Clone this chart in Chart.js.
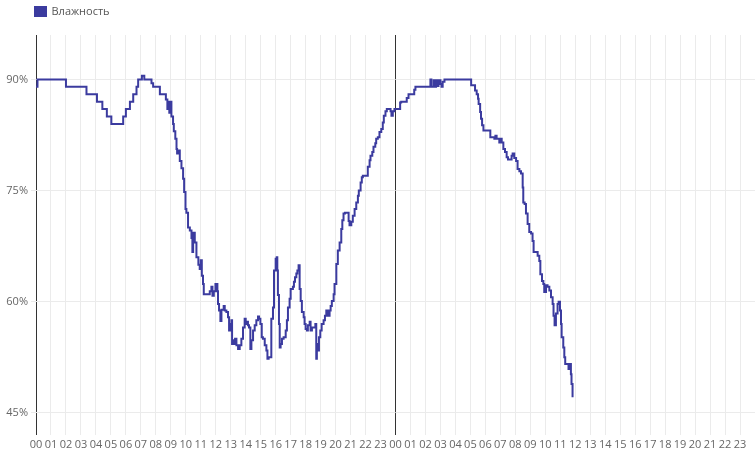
<!DOCTYPE html>
<html>
<head>
<meta charset="utf-8">
<script src="https://cdn.jsdelivr.net/npm/chart.js@4.4.1/dist/chart.umd.min.js"></script>
<style>
  html, body { margin: 0; padding: 0; background: #fff; }
  #wrap { width: 755px; height: 451px; }
</style>
</head>
<body>
<div id="wrap"><canvas id="myChart"></canvas></div>
<script>
// hours since 00:00 of the first day, each one is a point where the reading changes
var times = [
  0, 0.1, 2.0, 3.37, 4.07, 4.43, 4.73, 5.03, 5.82, 6.0, 6.27, 6.49, 6.71, 6.82, 7.07, 7.23, 7.71, 7.82,
  8.27, 8.67, 8.77, 8.83, 8.9, 8.95, 9.04, 9.15, 9.2, 9.3, 9.38, 9.42, 9.53, 9.6, 9.71, 9.82, 9.89, 9.98,
  10.04, 10.15, 10.27, 10.38, 10.44, 10.49, 10.6, 10.71, 10.84, 10.93, 11.0, 11.07, 11.15, 11.2, 11.6,
  11.71, 11.78, 11.87, 11.98, 12.11, 12.15, 12.22, 12.31, 12.38, 12.53, 12.6, 12.71, 12.82, 12.89, 12.98,
  13.05, 13.09, 13.15, 13.22, 13.29, 13.38, 13.49, 13.6, 13.71, 13.82, 13.93, 14.0, 14.09, 14.15, 14.22,
  14.31, 14.38, 14.49, 14.6, 14.71, 14.82, 14.89, 14.98, 15.07, 15.15, 15.27, 15.38, 15.45, 15.53, 15.71,
  15.82, 15.89, 16.0, 16.07, 16.11, 16.15, 16.22, 16.27, 16.33, 16.42, 16.53, 16.67, 16.75, 16.82, 16.93,
  17.0, 17.15, 17.22, 17.29, 17.38, 17.45, 17.53, 17.6, 17.67, 17.75, 17.87, 17.93, 18.0, 18.09, 18.15,
  18.27, 18.33, 18.42, 18.65, 18.71, 18.75, 18.82, 18.89, 18.98, 19.07, 19.2, 19.29, 19.38, 19.49, 19.6,
  19.67, 19.75, 19.87, 19.93, 20.05, 20.15, 20.27, 20.38, 20.45, 20.53, 20.63, 20.87, 20.93, 21.05, 21.15,
  21.27, 21.38, 21.49, 21.55, 21.67, 21.75, 21.82, 22.15, 22.27, 22.33, 22.45, 22.53, 22.65, 22.71, 22.82,
  22.93, 23.05, 23.15, 23.22, 23.33, 23.42, 23.67, 23.73, 23.82, 23.93,
  24.31, 24.38, 24.75, 24.87, 25.25, 25.33, 26.33, 26.4, 26.55, 26.62, 26.71, 26.78, 26.87, 27.0, 27.07,
  27.15, 27.27, 29.05, 29.31, 29.42, 29.51, 29.55, 29.65, 29.71, 29.78, 29.87, 30.33, 30.6, 30.67, 30.75,
  30.93, 31.0, 31.09, 31.2, 31.31, 31.42, 31.51, 31.75, 31.82, 31.93, 32.05, 32.15, 32.27, 32.38, 32.49,
  32.53, 32.62, 32.71, 32.82, 32.93, 33.05, 33.15, 33.22, 33.49, 33.6, 33.67, 33.78, 33.87, 33.93, 34.05,
  34.15, 34.27, 34.38, 34.49, 34.55, 34.62, 34.71, 34.82, 34.89, 34.98, 35.05, 35.09, 35.2, 35.27, 35.33,
  35.55, 35.65, 35.71, 35.75, 35.82
];
var humidity = [
  89, 90, 89, 88, 87, 86, 85, 84, 85, 86, 87, 88, 89, 90, 90.5, 90, 89.5, 89,
  88, 87.3, 86, 87, 85.5, 87, 85, 84, 83, 82, 80.6, 80, 80.4, 79, 78, 76.6, 74.8, 72.5,
  72, 70, 69.6, 68.6, 66.7, 69.3, 68, 66, 65, 64.4, 65.6, 63.5, 62.4, 61, 61.4,
  62, 60.8, 61.4, 62.4, 61.4, 59.7, 58.8, 57.4, 58.9, 59.4, 58.8, 58.6, 57.9, 56.1, 57,
  57.5, 54.3, 54.8, 54.3, 55, 54.1, 53.6, 54.1, 55, 56.5, 57.7, 57, 57.3, 56.8, 56.5,
  53.6, 54.8, 56.1, 56.8, 57.5, 58, 57.7, 57, 55.2, 55, 54.1, 53.4, 52.3, 52.5, 57.7,
  59.2, 64.2, 65.8, 66, 64.2, 60.9, 57, 53.8, 54.3, 55, 55.2, 56.1, 57.5, 59.2, 60.4,
  61.7, 62, 62.7, 63.3, 63.8, 64.2, 64.9, 61.7, 60.1, 58.6, 57.9, 57, 56.3, 56.1, 56.8,
  57.3, 56.1, 56.5, 57, 52.3, 54.3, 53.4, 55.2, 56.1, 57, 57.5, 58.1, 58.8, 58.1, 58.8,
  59.4, 60.1, 61, 62.4, 65.1, 66.9, 68, 69.8, 71, 71.9, 72, 70.9, 70.3, 70.8, 71.6,
  72.5, 73.4, 74.3, 75, 76.1, 76.8, 77, 78.2, 79.1, 79.7, 80.2, 80.9, 81.4, 82, 82.2,
  82.9, 83.3, 84.2, 85.1, 85.7, 86, 85.7, 85.1, 85.7, 86,
  86.9, 87, 87.5, 88, 88.6, 89, 90, 89, 89.9, 89, 89.9, 89.1, 89.9, 89.4, 89,
  89.7, 90, 89.2, 88.5, 88, 87.4, 86.7, 85.6, 84.7, 83.8, 83.1, 82.2, 82, 82.4, 82,
  81.5, 82, 81.5, 80.6, 80.2, 79.5, 79.2, 79.7, 80, 79.4, 79, 77.9, 77.6, 77.3, 75.4,
  73.4, 73.2, 71.9, 70.5, 69.4, 69.2, 68.2, 66.7, 66.2, 65.5, 63.7, 62.8, 62.4, 61.3, 62.2,
  62, 61.5, 60.6, 59.7, 58.1, 56.8, 58.4, 59.7, 60, 58.8, 57, 55.2, 53.8, 52.5, 51.6,
  50.9, 51.6, 50.2, 48.9, 47.1
];
var yTicks = [45, 60, 75, 90];

Chart.defaults.font.family = "'Open Sans', sans-serif";
Chart.defaults.font.size = 11;
Chart.defaults.color = '#666';

var lineColor = '#3b3b9f';

var ctx = document.getElementById('myChart');
var chart = new Chart(ctx, {
    type: 'line',
    data: {
        datasets: [{
            label: 'Влажность',
            data: times.map(function(t, i) { return {x: t, y: humidity[i]}; }),
            borderColor: lineColor,
            backgroundColor: lineColor,
            borderWidth: 2,
            pointRadius: 0,
            stepped: true,
            fill: false
        }]
    },
    options: {
        responsive: true,
        maintainAspectRatio: false,
        animation: false,
        events: [],
        layout: { padding: 0 },
        plugins: {
            legend: {
                position: 'top',
                align: 'start',
                labels: { boxWidth: 11, boxHeight: 9, padding: 6, color: '#555' }
            },
            tooltip: { enabled: false }
        },
        scales: {
            x: {
                type: 'linear',
                min: 0,
                max: 48,
                afterFit: function(scale) { scale.height = 16; },
                ticks: {
                    stepSize: 1,
                    autoSkip: false,
                    maxRotation: 0,
                    padding: 3,
                    callback: function(v) {
                        if (v >= 48) return null;
                        var h = v % 24;
                        return (h < 10 ? '0' : '') + h;
                    }
                },
                grid: {
                    drawTicks: false,
                    color: function(c) {
                        return (c.tick && c.tick.value % 24 === 0) ? '#333' : '#ebebeb';
                    }
                },
                border: { display: false }
            },
            y: {
                min: 42,
                max: 96,
                afterFit: function(scale) { scale.width = 36; },
                afterBuildTicks: function(scale) {
                    scale.ticks = yTicks.map(function(v) { return {value: v}; });
                },
                ticks: {
                    padding: 3,
                    callback: function(v) { return v + '%'; }
                },
                grid: { color: '#ebebeb', tickLength: 5 },
                border: { display: false }
            }
        }
    },
    plugins: [{
        id: 'legendPlace',
        beforeInit: function(chart) {
            var fit = chart.legend.fit;
            chart.legend.fit = function() {
                fit.call(this);
                this.height = 35;
            };
        },
        afterLayout: function(chart) {
            chart.legend.left = 29;
        }
    }]
});
</script>
</body>
</html>
